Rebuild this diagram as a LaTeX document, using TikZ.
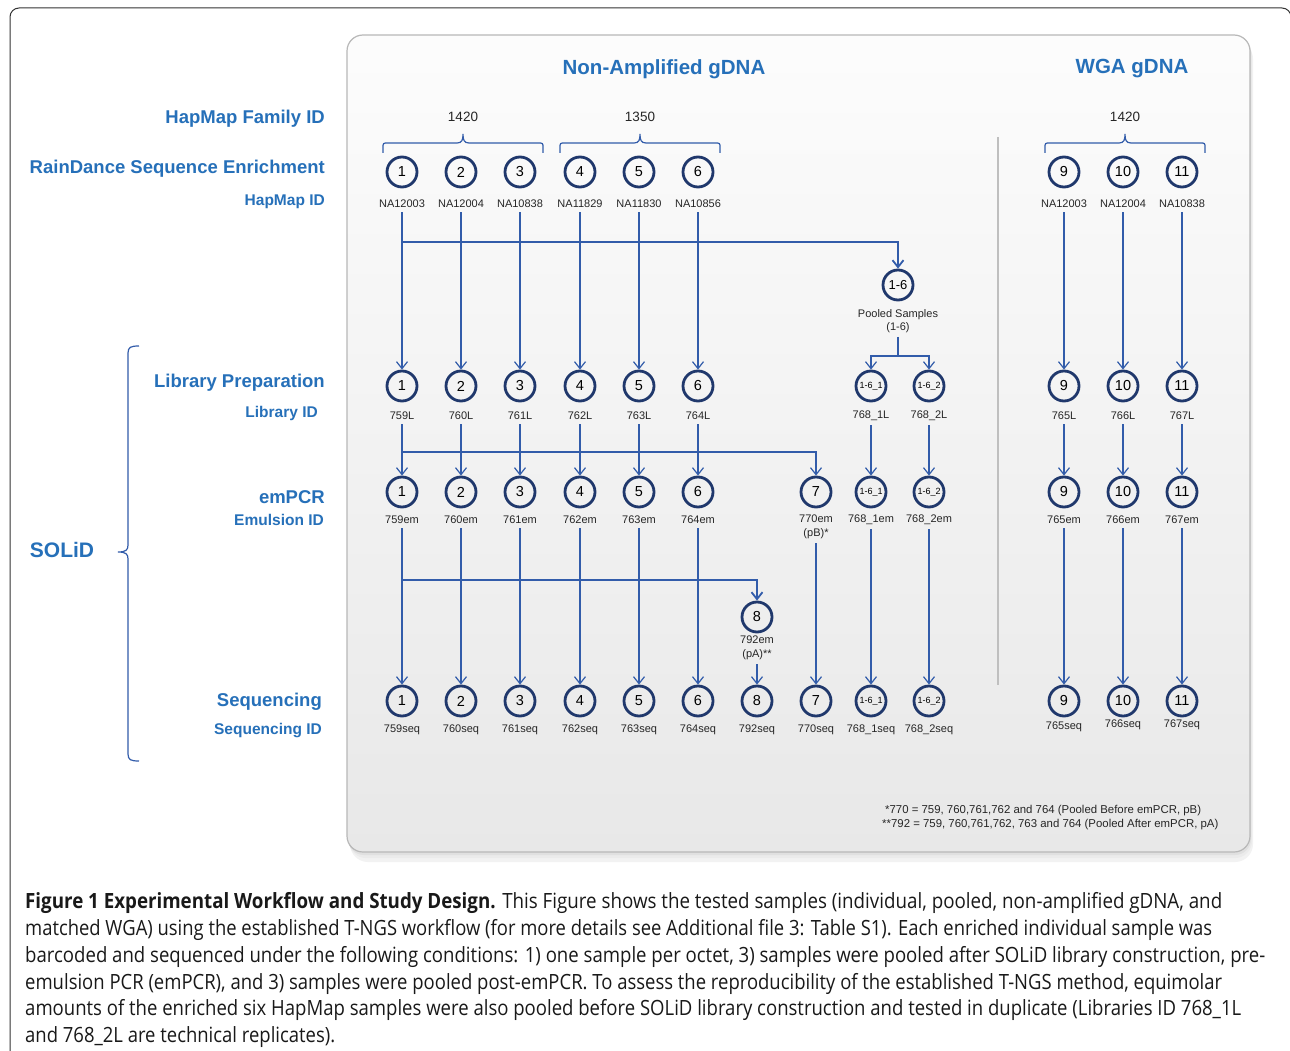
\documentclass[tikz,border=0pt]{standalone}
\usepackage{fontspec}
\setmainfont{Liberation Sans}
\newfontfamily\capfont{Open Sans}
\usepackage{graphicx}
\usetikzlibrary{arrows.meta,shadows,calc}
\definecolor{hdr}{RGB}{38,112,185}
\definecolor{navy}{RGB}{32,56,108}
\definecolor{lnk}{RGB}{50,92,170}
\newlength\capw
\newcommand\fitline[2]{\settowidth{\capw}{#2}\pgfmathsetmacro\caprat{#1/\capw}\scalebox{\caprat}[1]{#2}}
\newcommand\fambrace[3]{%
  \draw[brc] (#1,153) -- (#1,148) .. controls (#1,143) .. ($(#1,143)+(5,0)$) -- ($(#3,143)-(6,0)$) .. controls ($(#3,143)-(1,0)$) and ($(#3,140)$) .. (#3,134) .. controls (#3,140) and ($(#3,143)+(1,0)$) .. ($(#3,143)+(6,0)$) -- ($(#2,143)-(5,0)$) .. controls (#2,143) .. (#2,148) -- (#2,153);}
\begin{document}
\begin{tikzpicture}[x=1pt,y=-1pt,
  circ/.style={circle,draw=navy,line width=2.8pt,minimum size=30pt,inner sep=0pt,font=\fontsize{14.5}{14.5}\selectfont},
  scirc/.style={circ,font=\fontsize{9}{9}\selectfont},
  lbl/.style={font=\fontsize{11}{13}\selectfont,text=black!85,inner sep=4pt,align=center},
  hd/.style={text=hdr,font=\bfseries\fontsize{18.5}{20}\selectfont,anchor=east,inner sep=0pt},
  sub/.style={text=hdr,font=\bfseries\fontsize{15.5}{17}\selectfont,anchor=east,inner sep=0pt},
  ttl/.style={text=hdr,font=\bfseries\fontsize{20.5}{22}\selectfont,inner sep=0pt},
  arr/.style={draw=lnk,line width=1.2pt,-{Straight Barb[length=7pt,width=11pt]}},
  arrb/.style={arr,line width=1.8pt},
  brc/.style={draw=lnk,line width=1.2pt},
  capl/.style={anchor=base west,inner sep=0pt,font=\capfont\fontsize{21}{24}\selectfont,text=black!90}]
\useasboundingbox (0,0) rectangle (1290,1051);
\fill[white] (0,0) rectangle (1290,1051);
% outer frame
\draw[black!80,line width=1pt,rounded corners=9pt] (10,1070) -- (10,8) -- (1291,8) -- (1291,1070);
% panel with soft shadow
\fill[black!5,rounded corners=18pt] (350,41) rectangle (1253,862);
\fill[black!8,rounded corners=17pt] (349,39) rectangle (1252,858);
\fill[black!12,rounded corners=16pt] (348,37) rectangle (1251,855);
\draw[draw=black!28,line width=1.2pt,top color=black!1,bottom color=black!9,rounded corners=16pt] (347,35) rectangle (1250,852);
% titles
\node[ttl] (t1) at (664,69) {Non-Amplified gDNA};
\node[ttl] (t2) at (1132,69) {WGA gDNA};
% left labels
\node[hd] (h1) at (325,119) {HapMap Family ID};
\node[hd] (h2) at (325,169) {RainDance Sequence Enrichment};
\node[sub] (h3) at (325,202) {HapMap ID};
\node[hd] (h4) at (325,383) {Library Preparation};
\node[sub] (h5) at (318,413) {Library ID};
\node[hd] (h6) at (325,497) {emPCR};
\node[sub] (h7) at (324,520) {Emulsion ID};
\node[hd] (h8) at (322,702) {Sequencing};
\node[sub] (h9) at (322,731) {Sequencing ID};
\node[text=hdr,font=\bfseries\fontsize{21}{22}\selectfont,inner sep=0pt] (solid) at (62,550) {SOLiD};
\draw[brc] (139,346) .. controls (131,346) and (128,347) .. (128,353) -- (128,545) .. controls (128,550) and (126,552) .. (118,552) .. controls (126,552) and (128,554) .. (128,559) -- (128,754) .. controls (128,760) and (131,761) .. (139,761);
% separator
\draw[black!25,line width=1.2pt] (998,137) -- (998,685);
% family braces
\fambrace{383}{543}{463}
\fambrace{560}{720}{640}
\fambrace{1045}{1205}{1125}
\node[lbl,font=\fontsize{13.5}{14}\selectfont] (f1) at (463,117) {1420};
\node[lbl,font=\fontsize{13.5}{14}\selectfont] (f2) at (640,117) {1350};
\node[lbl,font=\fontsize{13.5}{14}\selectfont] (f3) at (1125,117) {1420};
% columns
\foreach \i/\x/\na/\lb/\ee/\q/\sy in {1/402/NA12003/759L/759em/759seq/730,2/461/NA12004/760L/760em/760seq/730,3/520/NA10838/761L/761em/761seq/730,4/580/NA11829/762L/762em/762seq/730,5/639/NA11830/763L/763em/763seq/730,6/698/NA10856/764L/764em/764seq/730,9/1064/NA12003/765L/765em/765seq/727,10/1123/NA12004/766L/766em/766seq/725,11/1182/NA10838/767L/767em/767seq/725}{
  \node[circ] (c\i) at (\x,172) {\i};
  \node[lbl] (na\i) at (\x,204) {\na};
  \node[circ] (l\i) at (\x,386) {\i};
  \node[lbl] (ll\i) at (\x,416) {\lb};
  \node[circ] (e\i) at (\x,492) {\i};
  \node[lbl] (el\i) at (\x,520) {\ee};
  \node[circ] (s\i) at (\x,701) {\i};
  \node[lbl] (sl\i) at (\x,\sy) {\q};
  \draw[arr] (na\i.south) -- (l\i.north);
  \draw[arr] (ll\i.south) -- (e\i.north);
  \draw[arr] (el\i.south) -- (s\i.north);
}
% pooled
\node[circ,font=\fontsize{13}{13}\selectfont] (pool) at (898,285) {1-6};
\node[lbl,font=\fontsize{11}{13}\selectfont] (pooll) at (898,321) {Pooled Samples\\(1-6)};
\coordinate (j1) at (402,242);
\draw[arrb] (j1) -| (pool.north);
\coordinate (split) at (898,356);
\node[scirc] (lp1) at (871,386) {1-6\_1};
\node[scirc] (lp2) at (929,386) {1-6\_2};
\draw[arr] (pooll.south) -- (split) -| (lp1.north);
\draw[arr] (split) -| (lp2.north);
\node[lbl] (llp1) at (871,416) {768\_1L};
\node[lbl] (llp2) at (929,416) {768\_2L};
\node[scirc] (ep1) at (871,492) {1-6\_1};
\node[scirc] (ep2) at (929,492) {1-6\_2};
\node[lbl] (elp1) at (871,520) {768\_1em};
\node[lbl] (elp2) at (929,520) {768\_2em};
\node[scirc] (sp1) at (871,701) {1-6\_1};
\node[scirc] (sp2) at (929,701) {1-6\_2};
\node[lbl] (slp1) at (871,730) {768\_1seq};
\node[lbl] (slp2) at (929,730) {768\_2seq};
\draw[arr] (llp1.south) -- (ep1.north);
\draw[arr] (llp2.south) -- (ep2.north);
\draw[arr] (elp1.south) -- (sp1.north);
\draw[arr] (elp2.south) -- (sp2.north);
% column 7
\node[circ] (e7) at (816,492) {7};
\node[lbl,font=\fontsize{11}{14}\selectfont] (el7) at (816,527) {770em\\(pB)*};
\node[circ] (s7) at (816,701) {7};
\node[lbl] (sl7) at (816,730) {770seq};
\coordinate (j2) at (402,452);
\draw[arr] (j2) -| (e7.north);
\draw[arr] (el7.south) -- (s7.north);
% column 8
\node[circ] (e8) at (757,617) {8};
\node[lbl,font=\fontsize{11}{14}\selectfont] (el8) at (757,648) {792em\\(pA)**};
\node[circ] (s8) at (757,701) {8};
\node[lbl] (sl8) at (757,730) {792seq};
\coordinate (j3) at (402,580);
\draw[arrb] (j3) -| (e8.north);
\draw[arr] (el8.south) -- (s8.north);
% footnotes
\node[anchor=base west,inner sep=0pt,font=\fontsize{11.4}{13}\selectfont,text=black!85] (fn1) at (885,813) {*770 = 759, 760,761,762 and 764 (Pooled Before emPCR, pB)};
\node[anchor=base west,inner sep=0pt,font=\fontsize{11.4}{13}\selectfont,text=black!85] (fn2) at (882,827) {**792 = 759, 760,761,762, 763 and 764 (Pooled After emPCR, pA)};
% caption
\node[capl] (cap1) at (25,908) {\fitline{1197}{\textbf{Figure 1 Experimental Workflow and Study Design.} This Figure shows the tested samples (individual, pooled, non-amplified gDNA, and}};
\node[capl] (cap2) at (25,935) {\fitline{1187}{matched WGA) using the established T-NGS workflow (for more details see Additional file 3: Table S1). Each enriched individual sample was}};
\node[capl] (cap3) at (25,962) {\fitline{1240}{barcoded and sequenced under the following conditions: 1) one sample per octet, 3) samples were pooled after SOLiD library construction, pre-}};
\node[capl] (cap4) at (25,989) {\fitline{1197}{emulsion PCR (emPCR), and 3) samples were pooled post-emPCR. To assess the reproducibility of the established T-NGS method, equimolar}};
\node[capl] (cap5) at (25,1015.5) {\fitline{1216}{amounts of the enriched six HapMap samples were also pooled before SOLiD library construction and tested in duplicate (Libraries ID 768\_1L}};
\node[capl] (cap6) at (25,1042) {\fitline{310}{and 768\_2L are technical replicates).}};
\end{tikzpicture}
\end{document}
